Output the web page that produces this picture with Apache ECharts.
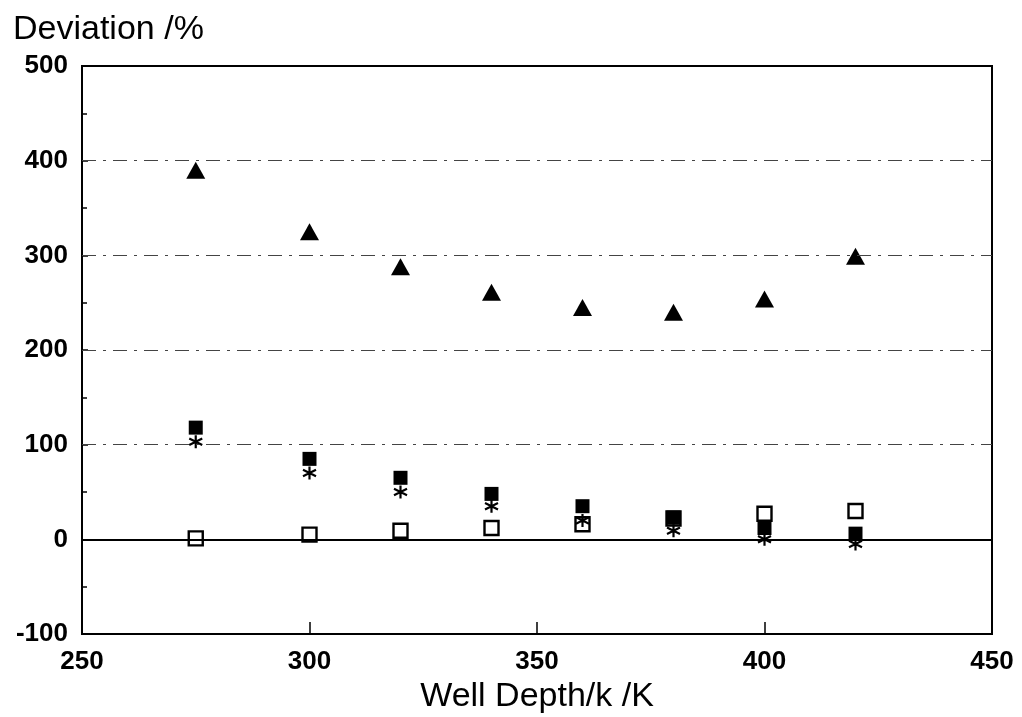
<!DOCTYPE html>
<html>
<head>
<meta charset="utf-8">
<script src="https://cdn.jsdelivr.net/npm/echarts@6/dist/echarts.min.js"></script>
<style>
html,body{margin:0;padding:0;background:#fff;}
#chart{width:1022px;height:717px;}
</style>
</head>
<body>
<div id="chart"></div>
<script>
const depths = [275, 300, 320, 340, 360, 380, 400, 420];
const triangleVals = [390, 325, 288, 261, 245, 240, 254, 299];
const filledSquareVals = [118, 85, 65, 48, 35, 23, 12, 6];
const asteriskVals = [103, 70, 50, 35, 20, 9, 0, -5];
const openSquareVals = [1, 5, 9, 12, 16, 22, 27, 30];
const xTicks = [250, 300, 350, 400, 450];
const yTicks = [-100, 0, 100, 200, 300, 400, 500];
const gridLineVals = [100, 200, 300, 400];

const pairs = (vals) => depths.map((d, i) => [d, vals[i]]);
const asteriskPath = 'path://M10 0 L10 20 M1.3 5 L18.7 15 M1.3 15 L18.7 5';

const chart = echarts.init(document.getElementById('chart'));
const fontFam = '"Liberation Sans", Arial, sans-serif';
chart.setOption({
  animation: false,
  backgroundColor: '#fff',
  title: {
    text: 'Deviation /%',
    left: 8, top: 8,
    textStyle: {fontFamily: fontFam, fontSize: 34, fontWeight: 'normal', color: '#000'}
  },
  grid: {left: 82, right: 30, top: 66, bottom: 83, outerBoundsMode: 'none', containLabel: false,
    show: true, borderColor: '#000', borderWidth: 2, backgroundColor: 'transparent'},
  xAxis: {
    type: 'value', min: xTicks[0], max: xTicks[xTicks.length - 1], interval: 50,
    name: 'Well Depth/k /K', nameLocation: 'middle', nameGap: 45,
    nameTextStyle: {fontFamily: fontFam, fontSize: 34, color: '#000', verticalAlign: 'top'},
    axisLine: {onZero: false, lineStyle: {color: '#000', width: 2}},
    axisTick: {inside: true, length: 12, lineStyle: {color: '#000', width: 1.5}},
    axisLabel: {fontFamily: fontFam, fontSize: 26, fontWeight: 'bold', color: '#000', margin: 15},
    splitLine: {show: false}
  },
  yAxis: {
    type: 'value', min: yTicks[0], max: yTicks[yTicks.length - 1], interval: 100,
    axisLine: {show: true, lineStyle: {color: '#000', width: 2}},
    axisTick: {inside: true, length: 6, lineStyle: {color: '#000', width: 1.5}},
    minorTick: {show: true, splitNumber: 2, length: 5, lineStyle: {color: '#000', width: 1.5}},
    axisLabel: {fontFamily: fontFam, fontSize: 26, fontWeight: 'bold', color: '#000', margin: 14},
    splitLine: {show: false}
  },
  series: [
    {
      type: 'scatter', name: 'lines', data: [], silent: true,
      markLine: {symbol: 'none', silent: true, label: {show: false},
        data: [
          {yAxis: 0, lineStyle: {color: '#000', width: 2, type: 'solid'}}
        ].concat(gridLineVals.map(v => ({yAxis: v, lineStyle: {color: '#444', width: 1, type: [14, 7, 3, 7]}})))
      }
    },
    {
      type: 'scatter', name: 'open', data: pairs(openSquareVals), symbol: 'rect', symbolSize: 14,
      itemStyle: {color: '#fff', borderColor: '#000', borderWidth: 2.4, opacity: 1}
    },
    {
      type: 'scatter', name: 'filled', data: pairs(filledSquareVals), symbol: 'rect', symbolSize: 14,
      itemStyle: {color: '#000', opacity: 1}
    },
    {
      type: 'scatter', name: 'asterisk', data: pairs(asteriskVals), symbol: asteriskPath, symbolSize: 13,
      itemStyle: {color: 'transparent', borderColor: '#000', borderWidth: 2.2, opacity: 1}
    },
    {
      type: 'scatter', name: 'triangle', data: pairs(triangleVals), symbol: 'triangle', symbolSize: [19, 17],
      itemStyle: {color: '#000', opacity: 1}
    }
  ]
});
</script>
</body>
</html>
